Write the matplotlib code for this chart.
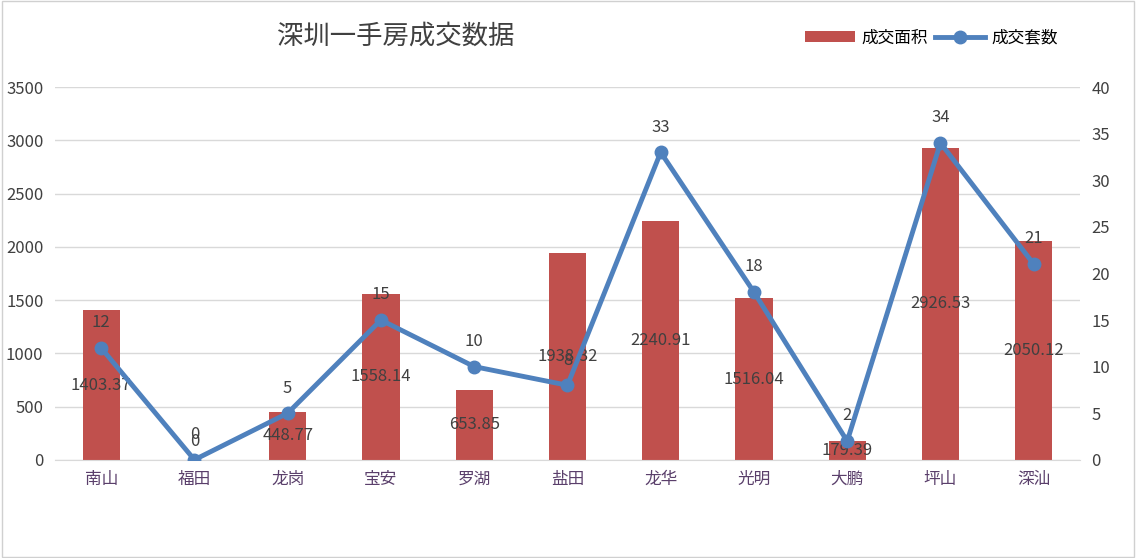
import matplotlib
matplotlib.use("Agg")
import matplotlib.pyplot as plt
from matplotlib.patches import Rectangle
from matplotlib import font_manager

names = {f.name for f in font_manager.fontManager.ttflist}
cands = [n for n in ["Noto Sans CJK SC", "Noto Sans CJK JP", "Noto Sans CJK TC", "Noto Sans CJK KR"] if n in names]
plt.rcParams["font.family"] = cands + ["DejaVu Sans"]

districts = ["南山", "福田", "龙岗", "宝安", "罗湖", "盐田", "龙华", "光明", "大鹏", "坪山", "深汕"]
area = [1403.37, 0, 448.77, 1558.14, 653.85, 1938.32, 2240.91, 1516.04, 179.39, 2926.53, 2050.12]
units = [12, 0, 5, 15, 10, 8, 33, 18, 2, 34, 21]

fig = plt.figure(figsize=(11.36, 5.58), dpi=100)
fig.patches.append(Rectangle((0.002, 0.002), 0.996, 0.996, transform=fig.transFigure,
                             fill=False, edgecolor="#d0d0d0", lw=1))
ax = fig.add_axes([0.048, 0.176, 0.903, 0.668])
ax2 = ax.twinx()
x = list(range(len(districts)))
ax.bar(x, area, width=0.4, color="#c0504d", label="成交面积", zorder=2)
ax.set_ylim(0, 3500)
ax.set_yticks(range(0, 3501, 500))
ax.set_xlim(-0.5, len(districts) - 0.5)
ax.grid(axis="y", color="#d9d9d9", lw=1, zorder=0)
ax.set_axisbelow(True)
for s in ["top", "left", "right"]:
    ax.spines[s].set_visible(False)
    ax2.spines[s].set_visible(False)
ax.spines["bottom"].set_color("#d9d9d9")
ax2.spines["bottom"].set_visible(False)
ax.set_xticks(x)
ax.set_xticklabels(districts, fontsize=12, color="#5a3f6b")
ax.tick_params(length=0, labelsize=12, colors="#404040", pad=8)
ax.tick_params(axis="x", colors="#5a3f6b")
for xi, v in zip(x, area):
    ax.text(xi, v / 2 if v else 170, f"{v:g}", ha="center", va="center", fontsize=12, color="#404040", zorder=5)

ax2.plot(x, units, color="#4f81bd", lw=3.5, marker="o", ms=9, label="成交套数", zorder=3)
ax2.set_ylim(0, 40)
ax2.set_yticks(range(0, 41, 5))
ax2.tick_params(length=0, labelsize=12, colors="#404040", pad=8)
for xi, v in zip(x, units):
    ax2.annotate(str(v), (xi, v), xytext=(0, 12), textcoords="offset points",
                 ha="center", va="bottom", fontsize=12, color="#404040")

fig.text(0.348, 0.935, "深圳一手房成交数据", fontsize=19, color="#404040", ha="center", va="center")
h1, l1 = ax.get_legend_handles_labels()
h2, l2 = ax2.get_legend_handles_labels()
fig.legend(h1 + h2, l1 + l2, loc="center", bbox_to_anchor=(0.82, 0.932), ncol=2, frameon=False,
           fontsize=12, handlelength=3, columnspacing=0.4, handletextpad=0.4)
fig.savefig("out.png", dpi=100)
